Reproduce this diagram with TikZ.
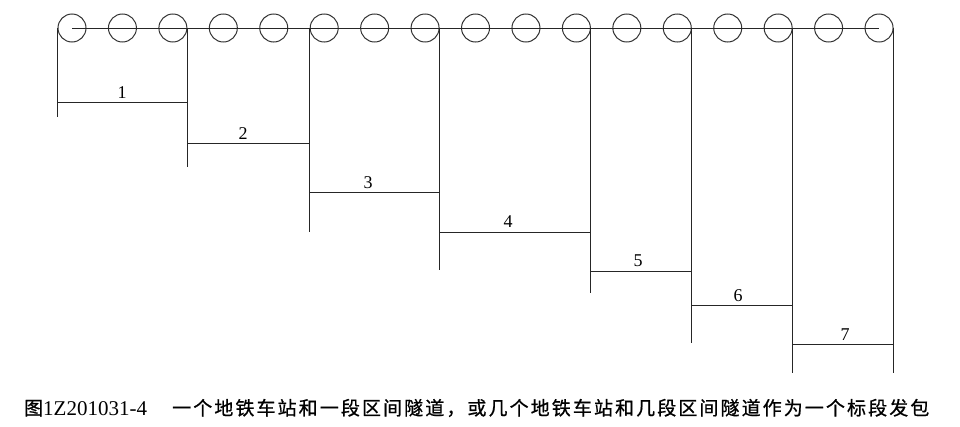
\documentclass[tikz,border=0pt]{standalone}
\usepackage{fontspec}
\setmainfont{Liberation Serif}
\newfontfamily\cjk[LetterSpace=11,FakeBold=0.8]{Noto Sans CJK SC}
\begin{document}
\begin{tikzpicture}[x=1pt,y=-1pt,
  ln/.style={draw=black!85,line width=1pt},
  stn/.style={circle,draw=black!80,line width=1pt,minimum size=28pt,inner sep=0pt},
  num/.style={font=\fontsize{18}{18}\selectfont,inner sep=0pt,anchor=base}]
\useasboundingbox (0,0) rectangle (960,426);
\foreach \i in {1,...,17}{
  \node[stn] (c\i) at ({72+50.44*(\i-1)},28) {};
}
\draw[ln] (c1.center) -- (c17.center);
% verticals
\coordinate (b0) at (c1.west |- 0,117);
\coordinate (b1) at (c3.east |- 0,167);
\coordinate (b2) at (c6.west |- 0,232);
\coordinate (b3) at (c8.east |- 0,270);
\coordinate (b4) at (c11.east |- 0,293);
\coordinate (b5) at (c13.east |- 0,343);
\coordinate (b6) at (c15.east |- 0,373);
\coordinate (b7) at (c17.east |- 0,373);
\draw[ln] (c1.west) -- (b0);
\draw[ln] (c3.east) -- (b1);
\draw[ln] (c6.west) -- (b2);
\draw[ln] (c8.east) -- (b3);
\draw[ln] (c11.east) -- (b4);
\draw[ln] (c13.east) -- (b5);
\draw[ln] (c15.east) -- (b6);
\draw[ln] (c17.east) -- (b7);
% section lines
\coordinate (h1a) at (c1.west |- 0,102);  \coordinate (h1b) at (c3.east |- 0,102);
\coordinate (h2a) at (c3.east |- 0,143);  \coordinate (h2b) at (c6.west |- 0,143);
\coordinate (h3a) at (c6.west |- 0,192);  \coordinate (h3b) at (c8.east |- 0,192);
\coordinate (h4a) at (c8.east |- 0,232);  \coordinate (h4b) at (c11.east |- 0,232);
\coordinate (h5a) at (c11.east |- 0,271); \coordinate (h5b) at (c13.east |- 0,271);
\coordinate (h6a) at (c13.east |- 0,305); \coordinate (h6b) at (c15.east |- 0,305);
\coordinate (h7a) at (c15.east |- 0,344); \coordinate (h7b) at (c17.east |- 0,344);
\foreach \k in {1,...,7}{ \draw[ln] (h\k a) -- (h\k b); }
\node[num] (n1) at (122,98) {1};
\node[num] (n2) at (243,139) {2};
\node[num] (n3) at (368,188) {3};
\node[num] (n4) at (508,227) {4};
\node[num] (n5) at (638,266) {5};
\node[num] (n6) at (738,301) {6};
\node[num] (n7) at (845,340) {7};
% caption
\node[anchor=base west,inner sep=0pt] (cap1) at (24,415) {\fontsize{19}{19}\selectfont{\cjk 图}\fontsize{21}{21}\selectfont 1Z201031-4};
\node[anchor=base west,inner sep=0pt] (cap2) at (172,415) {\fontsize{19}{19}\selectfont\cjk 一个地铁车站和一段区间隧道，或几个地铁车站和几段区间隧道作为一个标段发包};
\end{tikzpicture}
\end{document}
